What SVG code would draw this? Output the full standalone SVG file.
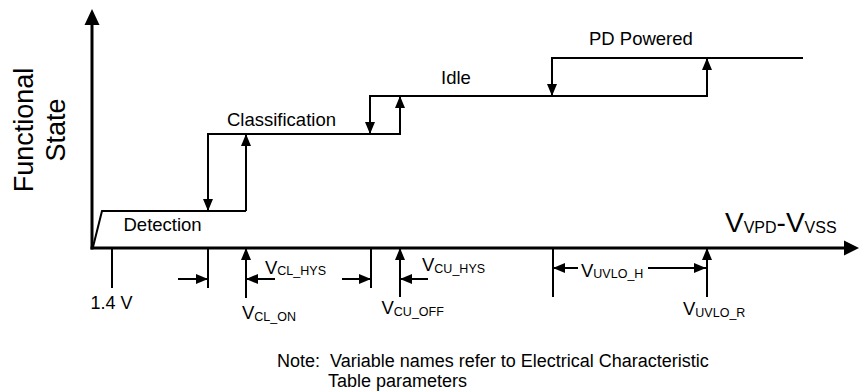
<svg xmlns="http://www.w3.org/2000/svg" width="859" height="392" viewBox="0 0 859 392">
<style>
text { font-family: "Liberation Sans", Arial, sans-serif; fill: #000; }
.lbl { font-size: 18.5px; }
.v { font-size: 18.5px; }
.sub { font-size: 12.5px; }
.note { font-size: 18px; }
.axis { stroke: #000; stroke-width: 3; fill: none; }
.ln { stroke: #000; stroke-width: 2; fill: none; }
.arr { stroke: #000; stroke-width: 2; fill: none; marker-end: url(#ah); }
</style>
<defs>
<marker id="ah" markerUnits="userSpaceOnUse" markerWidth="12" markerHeight="10" refX="12" refY="5" orient="auto">
<path d="M0,0 L12,5 L0,10 z" fill="#000"/>
</marker>
</defs>
<rect width="859" height="392" fill="#fff"/>

<g id="axes">
<line class="axis" x1="92" y1="249.5" x2="92" y2="22"/>
<polygon points="92,9 84.5,25 99.5,25" fill="#000"/>
<line class="axis" x1="90.5" y1="248" x2="846" y2="248"/>
<polygon points="859,248 844,240.5 844,255.5" fill="#000"/>
<text transform="translate(33,130) rotate(-90)" text-anchor="middle" style="font-size:27px">Functional</text>
<text transform="translate(65,130) rotate(-90)" text-anchor="middle" style="font-size:27px">State</text>
<text x="725" y="231.5" style="font-size:28px">V<tspan style="font-size:16px" dy="1">VPD</tspan><tspan dy="-1">-V</tspan><tspan style="font-size:16px" dy="1">VSS</tspan></text>
</g>

<g id="detection">
<polyline class="ln" points="93,247 102,211 246,211"/>
<text class="lbl" x="123.5" y="231">Detection</text>
</g>
<g id="classification">
<line class="ln" x1="207" y1="134" x2="401" y2="134"/>
<text class="lbl" x="227" y="125.5">Classification</text>
</g>
<g id="idle">
<line class="ln" x1="369" y1="96" x2="708" y2="96"/>
<text class="lbl" x="441" y="84">Idle</text>
</g>
<g id="pd-powered">
<line class="ln" x1="551" y1="58" x2="803" y2="58"/>
<text class="lbl" x="589" y="45">PD Powered</text>
</g>

<g id="connectors">
<line class="arr" x1="246" y1="211" x2="246" y2="134"/>
<line class="arr" x1="208" y1="134" x2="208" y2="211"/>
<line class="arr" x1="400" y1="134" x2="400" y2="96"/>
<line class="arr" x1="370" y1="96" x2="370" y2="134"/>
<line class="arr" x1="707" y1="96" x2="707" y2="58"/>
<line class="arr" x1="552" y1="58" x2="552" y2="96"/>
</g>

<g id="thresholds">
<line class="ln" x1="112" y1="248" x2="112" y2="288"/>
<text class="lbl" x="90.5" y="309.3" style="font-size:18px">1.4 V</text>

<line class="ln" x1="208" y1="248" x2="208" y2="288"/>
<line class="arr" x1="178" y1="279" x2="208" y2="279"/>
<line class="arr" x1="246" y1="298" x2="246" y2="248"/>
<line class="arr" x1="275" y1="279" x2="246" y2="279"/>
<text class="v" x="265" y="273.5">V<tspan class="sub" dy="1.5">CL_HYS</tspan></text>
<text class="v" x="242" y="319">V<tspan class="sub" dy="1.5">CL_ON</tspan></text>

<line class="ln" x1="371" y1="248" x2="371" y2="288"/>
<line class="arr" x1="342" y1="279" x2="371" y2="279"/>
<line class="arr" x1="400" y1="297" x2="400" y2="248"/>
<line class="arr" x1="428" y1="279" x2="400" y2="279"/>
<text class="v" x="422" y="271">V<tspan class="sub" dy="1.5">CU_HYS</tspan></text>
<text class="v" x="381.5" y="314">V<tspan class="sub" dy="1.5">CU_OFF</tspan></text>

<line class="ln" x1="553" y1="248" x2="553" y2="297"/>
<line class="arr" x1="578" y1="268" x2="553" y2="268"/>
<line class="arr" x1="648" y1="268" x2="706" y2="268"/>
<line class="arr" x1="707" y1="297" x2="707" y2="248"/>
<text class="v" x="581" y="276.5">V<tspan class="sub" dy="1.5">UVLO_H</tspan></text>
<text class="v" x="683" y="315">V<tspan class="sub" dy="1.5">UVLO_R</tspan></text>
</g>

<g id="note">
<text class="note" x="277" y="366.5" xml:space="preserve">Note:  Variable names refer to Electrical Characteristic</text>
<text class="note" x="328" y="387">Table parameters</text>
</g>
</svg>
